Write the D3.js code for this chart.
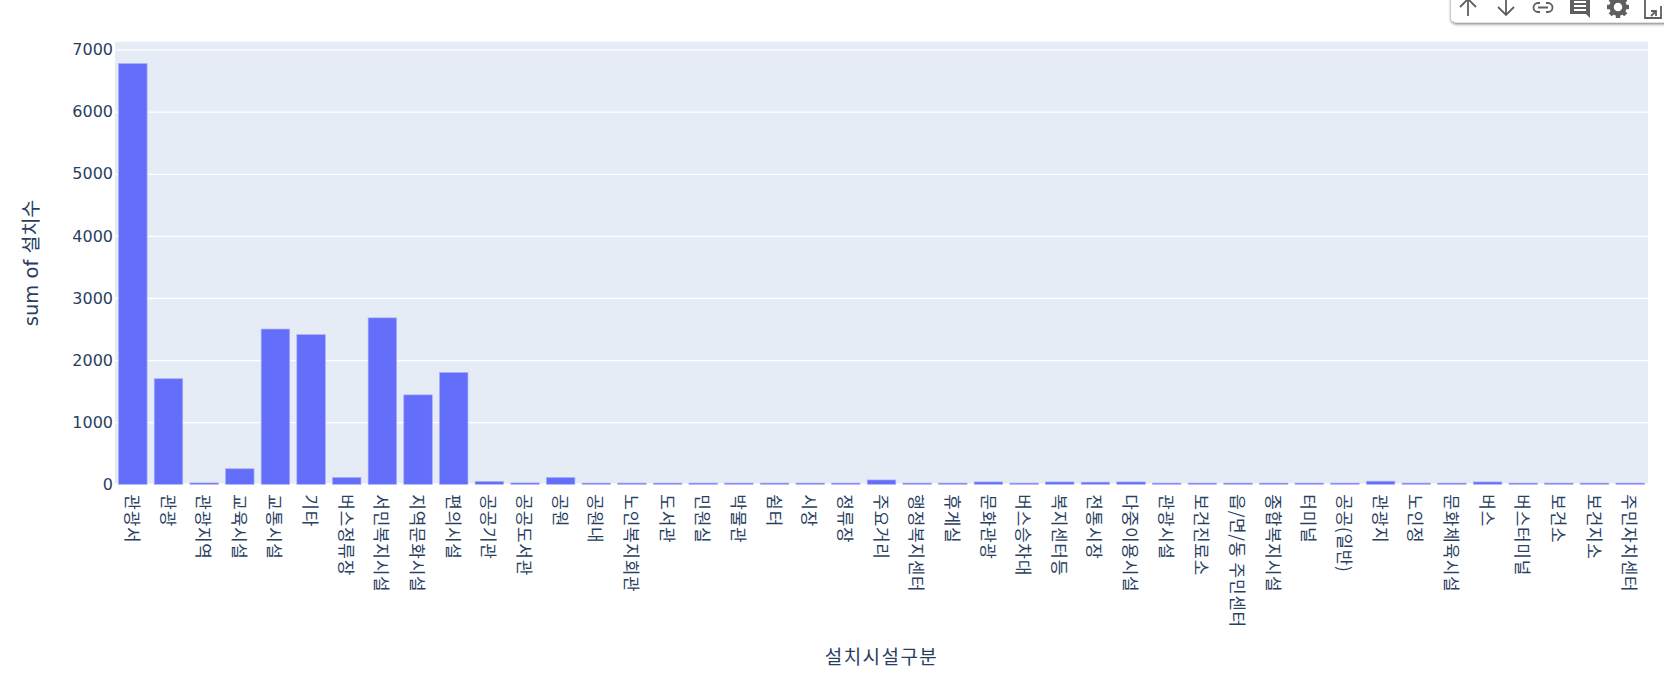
<!DOCTYPE html>
<html>
<head>
<meta charset="utf-8">
<script src="https://d3js.org/d3.v7.min.js"></script>
<style>
  body { margin: 0; background: #fff; overflow: hidden; }
  text { font-family: "DejaVu Sans", "Noto Sans CJK KR", sans-serif; fill: #2a3f5f; }
  .cjk { font-family: "Noto Sans CJK KR", sans-serif; }
</style>
</head>
<body>
<svg id="drawing_region"></svg>
<script>
const categories = ['관광서','관광','관광지역','교육시설','교통시설','기타','버스정류장','서민복지시설','지역문화시설','편의시설',
  '공공기관','공공도서관','공원','공원내','노인복지회관','도서관','민원실','박물관','쉼터','시장','정류장','주요거리',
  '행정복지센터','휴게실','문화관광','버스승차대','복지센터등','전통시장','다중이용시설','관광시설','보건진료소',
  '읍/면/동 주민센터','종합복지시설','터미널','공공(일반)','관광지','노인정','문화체육시설','버스','버스터미널','보건소','보건지소','주민자치센터'];
const values = [6775,1700,22,250,2500,2410,110,2680,1440,1800,
  45,22,110,20,20,20,20,20,20,20,20,70,
  20,20,38,20,38,35,38,20,20,
  20,20,20,20,50,20,20,38,20,20,20,20];
const yTicks = [0,1000,2000,3000,4000,5000,6000,7000];
const yMax = 7127;

const margin = {top: 41.7, right: 16, bottom: 198.7, left: 115};
const width = 1664, height = 683;
const inner_width = width - margin.left - margin.right;
const inner_height = height - margin.top - margin.bottom;

const svg = d3.select('#drawing_region').attr('width', width).attr('height', height)
  .style('display', 'block');

const xscale = d3.scaleBand().domain(categories).range([0, inner_width]).padding(0.2).paddingOuter(0.1);
const yscale = d3.scaleLinear().domain([0, yMax]).range([inner_height, 0]);

const chart = svg.append('g').attr('transform', `translate(${margin.left},${margin.top})`);

chart.append('rect')
  .attr('width', inner_width)
  .attr('height', inner_height)
  .attr('fill', '#e5ecf6');

// grid and y labels
const yaxis = chart.append('g')
  .call(d3.axisLeft(yscale).tickValues(yTicks).tickSize(-inner_width).tickPadding(2).tickFormat(d3.format('d')));
yaxis.select('.domain').remove();
yaxis.selectAll('.tick line')
  .attr('stroke', '#fff')
  .attr('stroke-width', d => d === 0 ? 2.67 : 1.33);
yaxis.selectAll('.tick text')
  .style('font-size', '16px')
  .style('fill', '#2a3f5f');

chart.selectAll('.bar')
  .data(categories)
  .enter()
  .append('rect')
  .attr('class', 'bar')
  .attr('x', d => xscale(d))
  .attr('y', (d, i) => yscale(values[i]))
  .attr('width', xscale.bandwidth())
  .attr('height', (d, i) => inner_height - yscale(values[i]))
  .attr('fill', '#636efa')
  .attr('stroke', '#aab0f8')
  .attr('stroke-width', 0.67);

const xaxis = chart.append('g')
  .attr('transform', `translate(0,${inner_height})`)
  .call(d3.axisBottom(xscale).tickSize(0));
xaxis.select('.domain').remove();
xaxis.selectAll('.tick text')
  .attr('class', 'cjk')
  .attr('transform', 'translate(-1,10) rotate(90)')
  .attr('x', 0)
  .attr('y', 0)
  .attr('dy', '0.35em')
  .attr('text-anchor', 'start')
  .style('font-size', '17px')
  .style('letter-spacing', '0.7px')
  .style('fill', '#2a3f5f');

// axis titles
svg.append('text')
  .attr('class', 'cjk')
  .attr('text-anchor', 'middle')
  .attr('x', margin.left + inner_width / 2)
  .attr('y', 664)
  .style('font-size', '19px')
  .style('letter-spacing', '1.4px')
  .text('설치시설구분');

svg.append('text')
  .attr('text-anchor', 'middle')
  .attr('transform', `translate(38,${margin.top + inner_height / 2}) rotate(-90)`)
  .style('font-size', '19.5px')
  .text('sum of 설치수');

// mode bar
const defs = svg.append('defs');
const shadow = defs.append('filter').attr('id', 'bar_shadow')
  .attr('x', '-5%').attr('y', '-20%').attr('width', '110%').attr('height', '150%');
shadow.append('feDropShadow').attr('dx', 0).attr('dy', 1.5).attr('stdDeviation', 1.5)
  .attr('flood-color', '#000').attr('flood-opacity', 0.55);

const modebar = svg.append('g');
modebar.append('rect')
  .attr('x', 1451).attr('y', -12)
  .attr('width', 240).attr('height', 34.5)
  .attr('rx', 5)
  .attr('fill', '#fff')
  .attr('filter', 'url(#bar_shadow)');

const iconColor = '#5f5f5f';
const lineIcon = (cx, d) => modebar.append('path')
  .attr('transform', `translate(${cx},0)`)
  .attr('d', d)
  .attr('fill', 'none')
  .attr('stroke', iconColor)
  .attr('stroke-width', 1.8);

lineIcon(1468, 'M0,16V-2M-8,7L0,-1L8,7');
lineIcon(1506, 'M0,-2V15M-8,7L0,15L8,7');
lineIcon(1543, 'M-3,3H-5A4,4 0 0 0 -5,12H-3M3,3H5A4,4 0 0 1 5,12H3M-5,7.5H5');

modebar.append('path')
  .attr('transform', 'translate(1580,0)')
  .attr('d', 'M-10,-2H10V18L6,14H-10ZM-6,1V3H6V1ZM-6,5V7H6V5ZM-6,9V11H6V9Z')
  .attr('fill', iconColor)
  .attr('fill-rule', 'evenodd');

const gear = modebar.append('g').attr('transform', 'translate(1618,7)');
gear.append('circle').attr('r', 6.5).attr('fill', 'none').attr('stroke', iconColor).attr('stroke-width', 4.5);
gear.selectAll('rect').data(d3.range(8)).enter().append('rect')
  .attr('x', -2.2).attr('y', -11).attr('width', 4.4).attr('height', 4.5)
  .attr('fill', iconColor)
  .attr('transform', d => `rotate(${d * 45})`);

lineIcon(1653, 'M-3,-2H-8V18H8V6M-2,16L3,11M-2,11H3V16M-5,14');
</script>
</body>
</html>
